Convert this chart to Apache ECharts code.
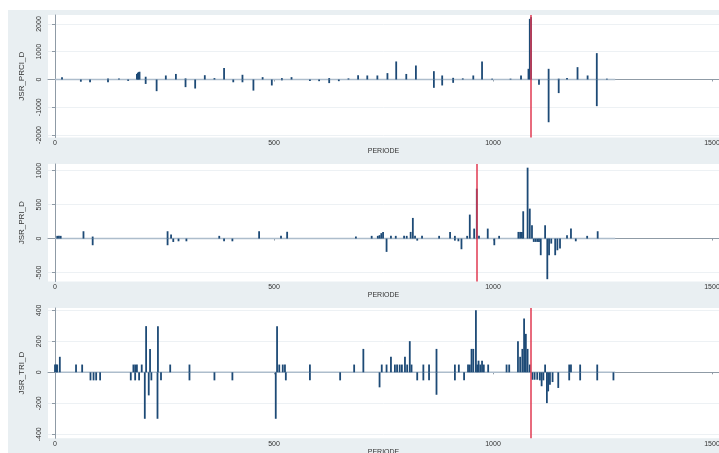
<!DOCTYPE html>
<html>
<head>
<meta charset="utf-8">
<script src="https://cdn.jsdelivr.net/npm/echarts@6/dist/echarts.min.js"></script>
<style>
html, body { margin: 0; padding: 0; background: #fff; }
#main { width: 719px; height: 453px; }
</style>
</head>
<body>
<div id="main"></div>
<script>
// tick labels
const xTicks = [0, 500, 1000, 1500];
const prciTicks = [-2000, -1000, 0, 1000, 2000];
const priTicks = [-500, 0, 500, 1000];
const triTicks = [-400, -200, 0, 200, 400];

// spikes [periode, value]
const prciSpikes = [
  [16, 80], [59, -80], [80, -100], [121, -100], [121, 40], [146, 40], [167, -50],
  [187, 200], [189, 240], [191, 265], [193, 280], [207, -160], [207, 100], [232, -420],
  [253, 145], [276, 200], [298, -275], [298, 40], [320, -325], [342, 155], [364, 50],
  [386, 410], [407, -100], [428, 170], [428, -100], [453, -400], [474, 85], [495, -215],
  [518, 50], [518, -30], [540, 85], [582, -50], [603, -60], [626, -130], [626, 50],
  [648, -60], [670, 40], [692, 150], [713, 145], [736, 145], [759, 230], [779, 650],
  [802, 200], [824, 505], [865, -300], [865, 300], [884, 145], [884, -215], [909, -120],
  [909, 60], [931, 40], [955, 145], [975, 650], [998, 30], [1040, 30], [1064, 145],
  [1081, 385], [1084, 2185], [1087, 2250], [1105, -190], [1127, 385], [1127, -1540],
  [1150, -490], [1150, 30], [1169, 50], [1193, 445], [1216, 145], [1237, 950],
  [1237, -960], [1260, 30]
];
const priSpikes = [
  [5, 40], [9, 40], [13, 40], [65, 108], [86, -98], [86, 30], [257, 108], [257, -98],
  [265, 60], [270, -50], [282, -40], [300, -40], [375, 40], [386, -40], [405, -40],
  [466, 108], [516, 40], [530, 100], [687, 30], [723, 40], [737, 40], [741, 50],
  [745, 80], [749, 98], [757, -196], [767, 40], [778, 40], [797, 40], [803, 40],
  [812, 98], [817, 304], [822, 40], [827, -30], [838, 40], [877, 40], [902, 98],
  [913, 40], [913, -30], [921, -40], [928, -157], [941, 40], [947, 353], [957, 147],
  [963, 735], [968, 40], [988, 147], [1003, -98], [1014, 40], [1058, 98], [1062, 98],
  [1066, 98], [1069, 402], [1079, 1044], [1084, 441], [1089, 196], [1093, -49],
  [1097, -49], [1101, -49], [1105, -49], [1109, -245], [1119, 196], [1124, -598],
  [1128, -245], [1133, -74], [1142, -245], [1147, -172], [1153, -147], [1169, 49],
  [1178, 147], [1189, -40], [1215, 40], [1239, 108]
];
const triSpikes = [
  [0, 50], [3, 50], [5, 50], [11, 100], [48, 50], [62, 50], [81, -52], [88, -52],
  [94, -52], [103, -52], [173, -52], [179, 50], [183, 50], [183, -52], [187, 50],
  [192, -52], [198, 50], [205, -300], [208, 298], [214, -149], [217, 151], [220, -52],
  [234, -300], [235, 298], [242, -52], [263, 50], [307, 50], [307, -52], [364, -52],
  [405, -52], [504, -300], [507, 298], [512, 50], [520, 50], [525, 50], [527, -52],
  [582, 50], [582, -52], [651, -52], [683, 50], [704, 151], [741, -97], [746, 50],
  [757, 50], [767, 100], [776, 50], [781, 50], [787, 50], [792, 50], [799, 100],
  [804, 50], [810, 201], [814, 50], [827, -52], [841, 50], [841, -52], [854, 50],
  [854, -52], [871, 151], [871, -145], [913, 50], [913, -52], [922, 50], [934, -52],
  [943, 50], [947, 50], [951, 151], [955, 151], [961, 400], [964, 50], [967, 75],
  [971, 50], [975, 75], [979, 50], [989, 50], [1031, 50], [1037, 50], [1057, 201],
  [1062, 100], [1067, 151], [1071, 348], [1075, 248], [1079, 151], [1084, 50],
  [1090, -48], [1095, -48], [1101, -48], [1107, -52], [1111, -90], [1115, -52],
  [1119, 50], [1123, -199], [1126, -123], [1130, -80], [1136, -63], [1149, -101],
  [1174, 50], [1174, -52], [1178, 50], [1199, 50], [1199, -52], [1238, 50],
  [1238, -52], [1275, -52]
];

const seriesEnd = 1279;
const panels = [
  { name: 'JSR_PRCI_D', spikes: prciSpikes, ticks: prciTicks, min: -2090, max: 2324, top: 15, bottom: 315.5, event: 1087 },
  { name: 'JSR_PRI_D', spikes: priSpikes, ticks: priTicks, min: -632, max: 1098, top: 164, bottom: 171.5, event: 963 },
  { name: 'JSR_TRI_D', spikes: triSpikes, ticks: triTicks, min: -426, max: 415, top: 308, bottom: 14.7, event: 1087 }
];

const axisColor = '#8f9ba6';
const labelFont = 'Liberation Sans';
const plain = function (v) { return String(v); };
const chart = echarts.init(document.getElementById('main'), null, { renderer: 'canvas' });

const grid = [], xAxis = [], yAxis = [], series = [];
panels.forEach(function (p, i) {
  grid.push({
    left: 48, right: 0, top: p.top, bottom: p.bottom,
    outerBoundsMode: 'none', containLabel: false,
    show: true, backgroundColor: '#fff', borderWidth: 0
  });
  xAxis.push({
    type: 'value', gridIndex: i, min: -16, max: 1516,
    name: 'PERIODE', nameLocation: 'middle', nameGap: 7,
    nameTextStyle: { fontFamily: labelFont, fontSize: 7, color: '#333' },
    axisLine: { show: true, lineStyle: { color: axisColor, width: 1 } },
    axisTick: { show: true, length: 2, customValues: xTicks, lineStyle: { color: axisColor } },
    axisLabel: {
      customValues: xTicks, formatter: plain, hideOverlap: false,
      alignMaxLabel: 'center', alignMinLabel: 'center',
      fontFamily: labelFont, fontSize: 7, color: '#333', margin: 2
    },
    splitLine: { show: false }
  });
  yAxis.push({
    type: 'value', gridIndex: i, min: p.min, max: p.max,
    name: p.name, nameLocation: 'middle', nameGap: 22, nameRotate: 90,
    nameTextStyle: { fontFamily: labelFont, fontSize: 8, color: '#333' },
    axisLine: { show: true, lineStyle: { color: axisColor, width: 1 } },
    axisTick: { show: true, length: 3, customValues: p.ticks, lineStyle: { color: axisColor } },
    axisLabel: { customValues: p.ticks, formatter: plain, rotate: 90, fontFamily: labelFont, fontSize: 7, color: '#333', margin: 5 },
    splitLine: { show: true, lineStyle: { color: '#edf1f4', width: 1 } }
  });
  series.push({
    type: 'line', xAxisIndex: i, yAxisIndex: i, silent: true,
    data: [[0, 0], [seriesEnd, 0]], showSymbol: false,
    lineStyle: { color: '#adbdcc', width: 1.5 }, z: 2,
    markLine: {
      silent: true, symbol: 'none', label: { show: false },
      lineStyle: { color: '#e03a52', width: 1.5, type: 'solid' },
      data: [{ xAxis: p.event }]
    }
  });
  series.push({
    type: 'bar', xAxisIndex: i, yAxisIndex: i, silent: true,
    data: p.spikes, barWidth: 1.8,
    itemStyle: { color: '#1d4a76' }, z: 3
  });
});

chart.setOption({
  animation: false,
  backgroundColor: '#fff',
  graphic: [{
    type: 'rect', left: 8, top: 10, z: -10,
    shape: { width: 711, height: 443 },
    style: { fill: '#e9eff2' }
  }],
  grid: grid,
  xAxis: xAxis,
  yAxis: yAxis,
  series: series
});
</script>
</body>
</html>
